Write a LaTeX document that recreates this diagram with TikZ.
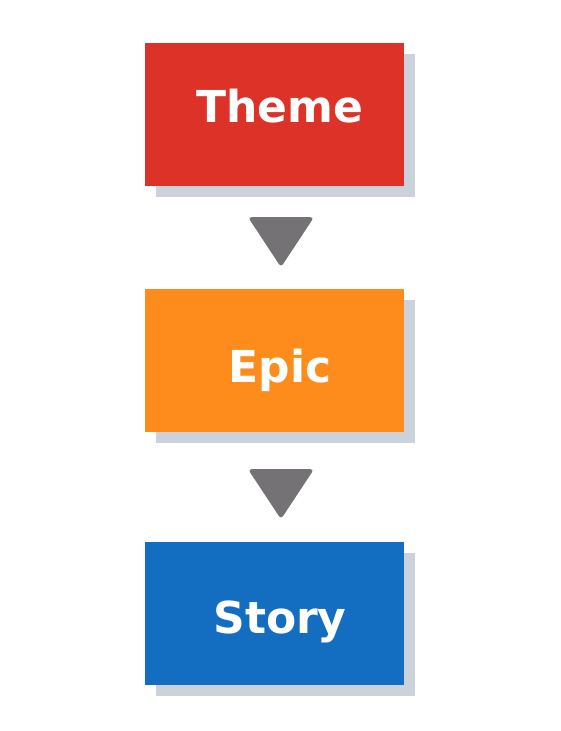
\documentclass[tikz,border=0pt]{standalone}
\usepackage{fontspec}
\setmainfont{DejaVu Sans}
\usetikzlibrary{shadows}
\usetikzlibrary{calc}
\definecolor{themered}{RGB}{221,50,40}
\definecolor{epicorange}{RGB}{254,140,28}
\definecolor{storyblue}{RGB}{19,110,193}
\definecolor{shadowgray}{RGB}{203,210,220}
\definecolor{tipgray}{RGB}{117,114,117}

\begin{document}
\begin{tikzpicture}[x=1pt,y=-1pt,
    stage/.style={minimum width=259pt, minimum height=143pt, inner sep=0pt,
      text=white, font=\bfseries\fontsize{44}{44}\selectfont, text depth=0pt,
      execute at begin node={\hspace*{11pt}},
      general shadow={fill=shadowgray, shadow xshift=11pt, shadow yshift=-11pt}},
    flowtip/.style={fill=tipgray, rounded corners=3.5pt}]
          \fill[white] (0,0) rectangle (561,731);
          \useasboundingbox (0,0) rectangle (561,731);
          \node[stage, fill=themered, text height=16pt] (theme) at (274.5,114.5) {Theme};
          \node[stage, fill=epicorange, text height=43pt] (epic) at (274.5,360.5) {Epic};
          \node[stage, fill=storyblue, text height=40pt] (story) at (274.5,613) {Story};
          \fill[flowtip] ($(theme.south)+(-26.5,31)$) -- ++(66,0) -- ++(-33,50) -- cycle;
          \fill[flowtip] ($(epic.south)+(-26.5,37)$) -- ++(66,0) -- ++(-33,50) -- cycle;
        \end{tikzpicture}
\end{document}
